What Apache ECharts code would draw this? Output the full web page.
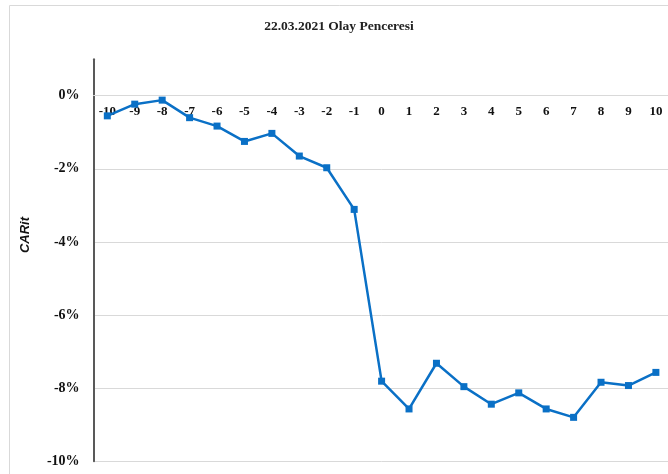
<!DOCTYPE html>
<html>
<head>
<meta charset="utf-8">
<script src="https://cdn.jsdelivr.net/npm/echarts@6/dist/echarts.min.js"></script>
<style>
  html, body { margin: 0; padding: 0; background: #fff; }
  #app { width: 668px; height: 474px; }
</style>
</head>
<body>
<div id="app"></div>
<script>
const days = ["-10", "-9", "-8", "-7", "-6", "-5", "-4", "-3", "-2", "-1", "0",
  "1", "2", "3", "4", "5", "6", "7", "8", "9", "10"];
// CAR values in %
const carValues = [-0.55, -0.23, -0.12, -0.6, -0.83, -1.25, -1.03, -1.65, -1.97, -3.11, -7.81,
  -8.57, -7.32, -7.96, -8.44, -8.13, -8.57, -8.8, -7.84, -7.93, -7.57];
const yTicks = [0, -2, -4, -6, -8, -10];
const yMin = -10;
const yMax = 1;

const dom = document.getElementById("app");
const myChart = echarts.init(dom);

const labelFont = "'Liberation Serif', 'Times New Roman', serif";
const gridHeight = 402;
// category axis sits on the 0% line, labels hang below it
const zeroOffset = -gridHeight * (yMax - 0) / (yMax - yMin);

myChart.setOption({
  animation: false,
  graphic: [
    {
      type: "rect",
      shape: { x: 9.5, y: 5.5, width: 700, height: 500 },
      style: { fill: "none", stroke: "#d9d9d9", lineWidth: 1 }
    },
    {
      type: "text",
      x: 339,
      y: 27,
      style: {
        text: "22.03.2021 Olay Penceresi",
        font: "bold 13.5px " + labelFont,
        fill: "#222",
        align: "center",
        verticalAlign: "middle"
      }
    },
    {
      type: "text",
      x: 25,
      y: 235,
      rotation: Math.PI / 2,
      style: {
        text: "CARit",
        font: "italic bold 13px 'Liberation Sans', Arial, sans-serif",
        fill: "#111",
        align: "center",
        verticalAlign: "middle"
      }
    }
  ],
  grid: {
    left: 93.6,
    top: 59.2,
    width: 576,
    height: gridHeight,
    outerBoundsMode: "none"
  },
  xAxis: {
    type: "category",
    data: days,
    position: "top",
    offset: zeroOffset,
    boundaryGap: true,
    axisLine: { onZero: false, lineStyle: { color: "#d9d9d9", width: 1 } },
    axisTick: { show: false },
    axisLabel: {
      inside: true,
      interval: 0,
      margin: 9,
      fontFamily: labelFont,
      fontWeight: "bold",
      fontSize: 13,
      color: "#111"
    }
  },
  yAxis: {
    type: "value",
    min: yMin,
    max: yMax,
    interval: 2,
    axisLine: { show: true, lineStyle: { color: "#595959", width: 2 } },
    axisTick: { show: false },
    splitLine: { showMaxLine: false, lineStyle: { color: "#d9d9d9", width: 1 } },
    axisLabel: {
      margin: 14,
      fontFamily: labelFont,
      fontWeight: "bold",
      fontSize: 14,
      color: "#111",
      formatter: function (v) {
        return yTicks.indexOf(v) >= 0 ? v + "%" : "";
      }
    }
  },
  series: [
    {
      type: "line",
      data: carValues,
      symbol: "rect",
      symbolSize: 7,
      lineStyle: { color: "#0a70c6", width: 2.5 },
      itemStyle: { color: "#0a70c6" }
    }
  ]
});
</script>
</body>
</html>
